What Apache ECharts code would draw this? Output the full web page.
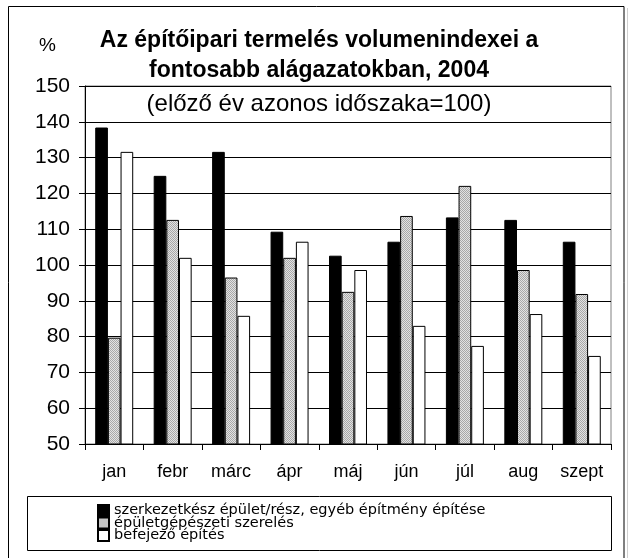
<!DOCTYPE html>
<html>
<head>
<meta charset="utf-8">
<script src="https://cdn.jsdelivr.net/npm/echarts@6/dist/echarts.min.js"></script>
<style>
html,body{margin:0;padding:0;background:#fff;}
#c{width:629px;height:558px;}
</style>
</head>
<body>
<div id="c"></div>
<script>
var categories = ['jan', 'febr', 'márc', 'ápr', 'máj', 'jún', 'júl', 'aug', 'szept'];
var seriesNames = ['szerkezetkész épület/rész, egyéb építmény építése', 'épületgépészeti szerelés', 'befejező építés'];
var szerkezetkesz = [138.4, 124.9, 131.6, 109.3, 102.6, 106.5, 113.3, 112.6, 106.5];
var epuletgepeszeti = [79.7, 112.6, 96.5, 102.0, 92.5, 113.7, 122.1, 98.6, 91.9];
var befejezo = [131.6, 102.0, 85.8, 106.5, 98.6, 83.0, 77.4, 86.3, 74.6];

var FONT = '"Liberation Sans", Arial, sans-serif';
var LEGEND_FONT = '"DejaVu Sans", "Liberation Sans", sans-serif';

// dither-like pattern for the grey series
var pc = document.createElement('canvas');
pc.width = 2; pc.height = 2;
var pctx = pc.getContext('2d');
pctx.fillStyle = '#e2e2e2'; pctx.fillRect(0, 0, 2, 2);
pctx.fillStyle = '#a8a8a8'; pctx.fillRect(0, 0, 1, 1); pctx.fillRect(1, 1, 1, 1);
var greyFill = { image: pc, repeat: 'repeat' };

var legendTops = [503, 515.5, 528];
var legends = seriesNames.map(function (n, i) {
  return {
    orient: 'horizontal', left: 97, top: legendTops[i], padding: 0,
    itemWidth: 11, itemHeight: 11, itemGap: 0, icon: 'rect', selectedMode: false,
    textStyle: { fontFamily: LEGEND_FONT, fontSize: 14.5, color: '#000', lineHeight: 14 },
    data: [n]
  };
});

var chart = echarts.init(document.getElementById('c'), null, { renderer: 'canvas' });
chart.setOption({
  animation: false,
  backgroundColor: '#fff',
  textStyle: { fontFamily: FONT, color: '#000' },
  title: [
    {
      text: 'Az építőipari termelés volumenindexei a\nfontosabb alágazatokban, 2004',
      left: 319, top: 26, textAlign: 'center', padding: 0,
      textStyle: { fontFamily: FONT, fontSize: 23, fontWeight: 'bold', color: '#000', lineHeight: 30 }
    },
    {
      text: '(előző év azonos időszaka=100)',
      left: 319, top: 92, textAlign: 'center', padding: 0,
      textStyle: { fontFamily: FONT, fontSize: 24, fontWeight: 'normal', color: '#000', lineHeight: 24 }
    },
    {
      text: '%',
      left: 39, top: 36, padding: 0,
      textStyle: { fontFamily: FONT, fontSize: 19, fontWeight: 'normal', color: '#000' }
    }
  ],
  grid: {
    left: 85, right: 18, top: 86, bottom: 114,
    show: true, borderColor: '#808080', borderWidth: 1, backgroundColor: 'transparent'
  },
  legend: legends,
  xAxis: {
    type: 'category', data: categories,
    axisLine: { lineStyle: { color: '#000', width: 1 } },
    axisTick: { show: true, length: 6, inside: false, lineStyle: { color: '#000' } },
    axisLabel: { margin: 19, fontFamily: FONT, fontSize: 18, color: '#000' },
    splitLine: { show: false }
  },
  yAxis: {
    type: 'value', min: 50, max: 150, interval: 10,
    axisLine: { show: true, lineStyle: { color: '#000', width: 1 } },
    axisTick: { show: true, length: 6, lineStyle: { color: '#000' } },
    axisLabel: { margin: 15, fontFamily: FONT, fontSize: 21, color: '#000' },
    splitLine: { show: true, lineStyle: { color: '#000', width: 1 } }
  },
  series: [
    {
      name: seriesNames[0], type: 'bar', data: szerkezetkesz,
      barGap: '0%', barCategoryGap: '35%',
      itemStyle: { color: '#000', borderColor: '#000', borderWidth: 1 }
    },
    {
      name: seriesNames[1], type: 'bar', data: epuletgepeszeti,
      barGap: '0%', barCategoryGap: '35%',
      itemStyle: { color: greyFill, borderColor: '#000', borderWidth: 1 }
    },
    {
      name: seriesNames[2], type: 'bar', data: befejezo,
      barGap: '0%', barCategoryGap: '35%',
      itemStyle: { color: '#fff', borderColor: '#000', borderWidth: 1 }
    }
  ],
  graphic: [
    {
      type: 'rect', z: -1, silent: true,
      shape: { x: 8.5, y: 6.5, width: 615.5, height: 560 },
      style: { fill: 'none', stroke: '#000', lineWidth: 1 }
    },
    {
      type: 'line', silent: true,
      shape: { x1: 627.5, y1: 8, x2: 627.5, y2: 558 },
      style: { stroke: '#d0d0d0', lineWidth: 1 }
    },
    {
      type: 'rect', z: -1, silent: true,
      shape: { x: 27.5, y: 496.5, width: 584, height: 54 },
      style: { fill: 'none', stroke: '#000', lineWidth: 1 }
    }
  ]
});
</script>
</body>
</html>
